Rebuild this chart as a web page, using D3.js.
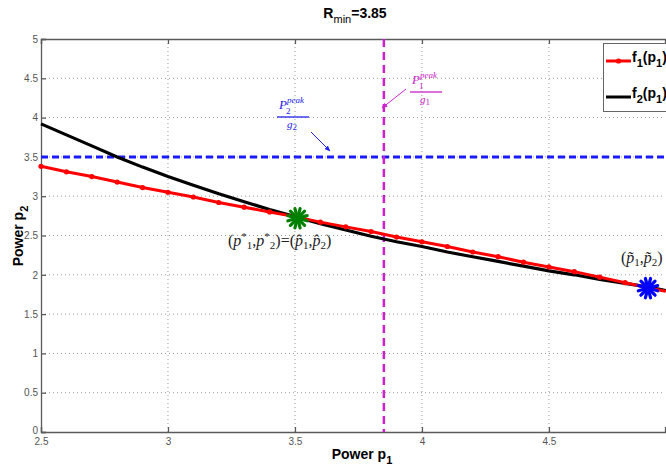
<!DOCTYPE html>
<html><head><meta charset="utf-8">
<script src="https://cdn.jsdelivr.net/npm/d3@7"></script>
<style>body{margin:0;background:#fff}svg{display:block}</style>
</head><body><svg id="c" width="666" height="474"></svg>
<script>
const p1 = [2.5,2.6,2.7,2.8,2.9,3.0,3.1,3.2,3.3,3.4,3.5,3.6,3.7,3.8,3.9,4.0,4.1,4.2,4.3,4.4,4.5,4.6,4.7,4.8,4.9];
const f1 = [3.38,3.31,3.25,3.18,3.11,3.05,2.99,2.92,2.86,2.80,2.74,2.67,2.61,2.55,2.48,2.42,2.36,2.29,2.23,2.16,2.10,2.04,1.97,1.90,1.83];
const f1End = [4.96, 1.79];
const f2 = [3.92,3.78,3.64,3.50,3.37,3.25,3.14,3.03,2.93,2.83,2.74,2.65,2.57,2.49,2.42,2.36,2.29,2.23,2.17,2.11,2.05,2.00,1.94,1.89,1.84];
const f2End = [4.96, 1.80];
const xTicks = [2.5,3,3.5,4,4.5];
const yTicks = [0,0.5,1,1.5,2,2.5,3,3.5,4,4.5,5];
const Rmin = 3.85;
const p2Line = 3.5;
const optPoint = [3.51, 2.72];
const tildePoint = [4.89, 1.83];

const svg = d3.select("#c");
const x = d3.scaleLinear().domain([2.5, 4.957]).range([41, 665]);
const y = d3.scaleLinear().domain([0, 5]).range([432, 39]);
const gridCol = "#9a9a9a", axCol = "#5a5a5a";
const tickFont = "'Liberation Sans Narrow','Arial Narrow',sans-serif";

// grid
svg.append("g").selectAll("line").data(yTicks.filter(d=>d>0&&d<5)).join("line")
  .attr("x1", x.range()[0]).attr("x2", x.range()[1]).attr("y1", d=>y(d)).attr("y2", d=>y(d))
  .attr("stroke", gridCol).attr("stroke-width", 1).attr("stroke-dasharray", "1,3");
svg.append("g").selectAll("line").data(xTicks.filter(d=>d>2.5)).join("line")
  .attr("x1", d=>x(d)).attr("x2", d=>x(d)).attr("y1", y(0)).attr("y2", y(5))
  .attr("stroke", gridCol).attr("stroke-width", 1).attr("stroke-dasharray", "1,3");

// axes
const xAxis = d3.axisBottom(x).tickValues(xTicks).tickSize(-5).tickFormat(d3.format("~g"));
const yAxis = d3.axisLeft(y).tickValues(yTicks).tickSize(-5).tickFormat(d3.format("~g"));
const gx = svg.append("g").attr("transform", `translate(0,${y(0)})`).call(xAxis);
const gy = svg.append("g").attr("transform", `translate(${x(2.5)},0)`).call(yAxis);
[gx, gy].forEach(g => {
  g.select(".domain").attr("stroke", axCol).attr("stroke-width", 1.3);
  g.selectAll(".tick line").attr("stroke", axCol).attr("stroke-width", 1.3);
  g.selectAll("text").attr("fill", "#555").attr("font-family", tickFont).attr("font-size", 10);
});
gx.selectAll("text").attr("y", 6);
gy.selectAll("text").attr("x", -3);
gy.selectAll(".tick").filter(d => d === 0).select("text").attr("dy", "0.1em");
const gxt = svg.append("g").attr("transform", `translate(0,${y(5)})`).call(d3.axisTop(x).tickValues(xTicks).tickSize(-5).tickFormat(""));
gxt.select(".domain").attr("stroke", axCol).attr("stroke-width", 1.3);
gxt.selectAll(".tick line").attr("stroke", axCol).attr("stroke-width", 1.3);

// reference lines
svg.append("line").attr("x1", x.range()[0]).attr("x2", x.range()[1]).attr("y1", y(p2Line)).attr("y2", y(p2Line))
  .attr("stroke", "#1a1aff").attr("stroke-width", 3).attr("stroke-dasharray", "7,4");
svg.append("line").attr("x1", x(Rmin)).attr("x2", x(Rmin)).attr("y1", y(5)).attr("y2", y(0))
  .attr("stroke", "#cc22cc").attr("stroke-width", 2.5).attr("stroke-dasharray", "8,5");

// curves
const line = d3.line().x(d=>x(d[0])).y(d=>y(d[1]));
const f2pts = p1.map((v,i)=>[v,f2[i]]).concat([f2End]);
const f1pts = p1.map((v,i)=>[v,f1[i]]).concat([f1End]);
svg.append("path").attr("d", line(f2pts)).attr("fill","none").attr("stroke","#000").attr("stroke-width",3.2);
svg.append("path").attr("d", line(f1pts)).attr("fill","none").attr("stroke","#ff0000").attr("stroke-width",3);
svg.append("g").selectAll("circle").data(p1.map((v,i)=>[v,f1[i]])).join("circle")
  .attr("cx", d=>x(d[0])).attr("cy", d=>y(d[1])).attr("r", 2.6).attr("fill", "#ff0000");

// stars
function star(pt, col) {
  const g = svg.append("g").attr("transform", `translate(${x(pt[0])},${y(pt[1])})`);
  for (let k = 0; k < 6; k++) {
    const a = k * Math.PI / 6 + Math.PI / 12;
    g.append("line").attr("x1", -10*Math.cos(a)).attr("y1", -10*Math.sin(a))
      .attr("x2", 10*Math.cos(a)).attr("y2", 10*Math.sin(a))
      .attr("stroke", col).attr("stroke-width", 3.2).attr("stroke-linecap", "round");
  }
  g.append("circle").attr("r", 4).attr("fill", col);
}
star(optPoint, "#008000");
star(tildePoint, "#0000ff");

// math annotations
const mathFont = "'Liberation Serif','DejaVu Serif',serif";
function frac(cx, topY, sub, col) {
  const g = svg.append("g").attr("fill", col).attr("font-family", mathFont).attr("font-style", "italic");
  const t = g.append("text").attr("x", cx - 14).attr("y", topY).attr("font-size", 13);
  t.append("tspan").text("P");
  t.append("tspan").attr("font-size", 9).attr("dy", -6).text("peak");
  g.append("text").attr("x", cx - 7).attr("y", topY + 5).attr("font-size", 9).attr("font-style","normal").text(sub);
  g.append("line").attr("x1", cx - 16).attr("x2", cx + 16).attr("y1", topY + 8).attr("y2", topY + 8)
    .attr("stroke", col).attr("stroke-width", 1.3);
  const d = g.append("text").attr("x", cx - 6).attr("y", topY + 19).attr("font-size", 11);
  d.append("tspan").text("g");
  d.append("tspan").attr("font-size", 9).attr("font-style","normal").attr("dy", 2).text(sub);
  return g;
}
frac(293, 109, "2", "#2222ee");
frac(426, 84, "1", "#cc22cc");
// arrows
svg.append("defs").html(`<marker id="ab" viewBox="0 0 10 10" refX="9" refY="5" markerWidth="6" markerHeight="6" orient="auto"><path d="M0,1L10,5L0,9z" fill="#2222ee"/></marker>
<marker id="am" viewBox="0 0 10 10" refX="9" refY="5" markerWidth="6" markerHeight="6" orient="auto"><path d="M0,1L10,5L0,9z" fill="#cc22cc"/></marker>`);
svg.append("line").attr("x1", 311).attr("y1", 132).attr("x2", 330).attr("y2", 151)
  .attr("stroke", "#2222ee").attr("stroke-width", 1).attr("marker-end", "url(#ab)");
svg.append("line").attr("x1", 406).attr("y1", 89).attr("x2", 382).attr("y2", 108)
  .attr("stroke", "#cc22cc").attr("stroke-width", 1).attr("marker-end", "url(#am)");

// point labels
function ptLabel(xp, yp, parts) {
  const t = svg.append("text").attr("x", xp).attr("y", yp).attr("font-family", mathFont).attr("font-size", 16).attr("fill", "#222");
  parts.forEach(p => {
    const s = t.append("tspan").text(p.t);
    if (p.i) s.attr("font-style", "italic");
    if (p.sub) s.attr("font-size", 11);
    if (p.dy) s.attr("dy", p.dy);
  });
}
ptLabel(228, 246, [{t:"("},{t:"p",i:1},{t:"*",sub:1,dy:-6},{t:"1",sub:1,dy:9},{t:",",dy:-3},{t:"p",i:1},{t:"*",sub:1,dy:-6},{t:"2",sub:1,dy:9},{t:")=(",dy:-3},{t:"p\u0302",i:1},{t:"1",sub:1,dy:3},{t:",",dy:-3},{t:"p\u0302",i:1},{t:"2",sub:1,dy:3},{t:")",dy:-3}]);
ptLabel(621, 263, [{t:"("},{t:"p\u0303",i:1},{t:"1",sub:1,dy:3},{t:",",dy:-3},{t:"p\u0303",i:1},{t:"2",sub:1,dy:3},{t:")",dy:-3}]);

// title & axis labels
const bold = "'Liberation Sans',Arial,sans-serif";
const title = svg.append("text").attr("x", 355).attr("y", 18).attr("text-anchor","middle")
  .attr("font-family", bold).attr("font-weight","bold").attr("font-size", 14);
title.append("tspan").text("R");
title.append("tspan").attr("font-size", 11).attr("font-weight","normal").attr("dy", 5).text("min");
title.append("tspan").attr("dy", -5).text("=3.85");
const xl = svg.append("text").attr("x", 362).attr("y", 459).attr("text-anchor","middle")
  .attr("font-family", bold).attr("font-weight","bold").attr("font-size", 14);
xl.append("tspan").text("Power p");
xl.append("tspan").attr("font-size", 11).attr("dy", 5).text("1");
const yl = svg.append("text").attr("transform", "translate(23,236) rotate(-90)").attr("text-anchor","middle")
  .attr("font-family", bold).attr("font-weight","bold").attr("font-size", 14);
yl.append("tspan").text("Power p");
yl.append("tspan").attr("font-size", 11).attr("dy", 5).text("2");

// legend
const lg = svg.append("g");
lg.append("rect").attr("x", 603.5).attr("y", 43.5).attr("width", 70).attr("height", 68)
  .attr("fill", "#fff").attr("stroke", "#666").attr("stroke-width", 1);
const leg = [{name:"f", sub:"1", col:"#ff0000", dot:true, yy:61},{name:"f", sub:"2", col:"#000", dot:false, yy:97}];
leg.forEach(e => {
  lg.append("line").attr("x1", 606).attr("x2", 631).attr("y1", e.yy).attr("y2", e.yy).attr("stroke", e.col).attr("stroke-width", 3);
  if (e.dot) lg.append("circle").attr("cx", 618.5).attr("cy", e.yy).attr("r", 2.6).attr("fill", e.col);
  const t = lg.append("text").attr("x", 632).attr("y", e.yy + 1).attr("font-family", bold).attr("font-weight","bold").attr("font-size", 14);
  t.append("tspan").text(e.name);
  t.append("tspan").attr("font-size", 11).attr("dy", 5).text(e.sub);
  t.append("tspan").attr("dy", -5).text("(p");
  t.append("tspan").attr("font-size", 11).attr("dy", 5).text("1");
  t.append("tspan").attr("dy", -5).text(")");
});
</script></body></html>
